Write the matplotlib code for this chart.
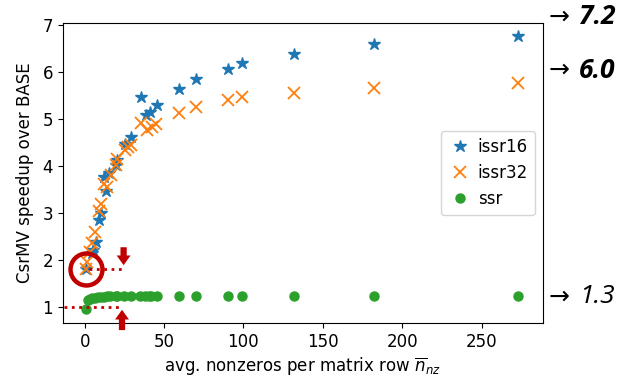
import matplotlib
matplotlib.use("Agg")
import matplotlib.pyplot as plt

# issr16 speedups
x16 = [0.8, 4.5, 5.4, 6.9, 8.8, 10.2, 13.1, 11.9, 15.2, 19.6, 20.4, 25.4, 29.0,
       35.2, 38.3, 41.0, 45.7, 59.6, 69.8, 90.2, 99.0, 131.9, 182.0, 273.3]
y16 = [1.81, 2.15, 2.21, 2.39, 2.84, 3.00, 3.47, 3.76, 3.84, 4.01, 4.13, 4.47, 4.62,
       5.46, 5.08, 5.15, 5.30, 5.63, 5.85, 6.06, 6.18, 6.38, 6.59, 6.77]

# issr32 speedups
x32 = [0.6, 1.7, 3.3, 4.8, 6.2, 8.7, 10.0, 12.1, 14.2, 16.3, 19.5, 20.4, 25.2, 27.0,
       29.2, 35.2, 39.0, 42.3, 45.0, 59.6, 69.8, 90.2, 99.0, 131.9, 182.0, 273.3]
y32 = [1.80, 1.96, 2.17, 2.37, 2.60, 3.05, 3.20, 3.62, 3.56, 3.81, 4.03, 4.14, 4.34, 4.40,
       4.45, 4.92, 4.76, 4.82, 4.90, 5.13, 5.25, 5.40, 5.46, 5.56, 5.65, 5.77]

# ssr speedups
xs = [0.6, 2.0, 3.3, 4.8, 6.5, 8.5, 10.0, 12.0, 14.0, 16.0, 19.5, 20.4, 25.0, 29.0,
      35.0, 38.0, 40.5, 42.0, 45.5, 59.6, 69.8, 90.2, 99.0, 131.9, 182.0, 273.3]
ys = [0.95, 1.15, 1.18, 1.19, 1.20, 1.21, 1.22, 1.22, 1.23, 1.23, 1.23, 1.23, 1.24, 1.24,
      1.24, 1.24, 1.24, 1.24, 1.24, 1.24, 1.24, 1.24, 1.24, 1.24, 1.24, 1.24]

# annotations on the right side
peak_labels = ["7.2", "6.0", "1.3"]
peak_weights = ["bold", "bold", "normal"]
peak_y = [7.17, 6.04, 1.22]

RED = "#C00000"

fig = plt.figure(figsize=(6.21, 3.79), dpi=100)
ax = fig.add_axes([0.1014, 0.1478, 0.7729, 0.7915])

ax.plot(x16, y16, "*", color="#1f77b4", ms=9, label="issr16")
ax.plot(x32, y32, "x", color="#ff7f0e", ms=9, mew=1.3, label="issr32")
ax.plot(xs, ys, "o", color="#2ca02c", ms=6.5, label="ssr")

ax.set_xlim(-13.7, 288.7)
ax.set_ylim(0.66, 7.04)
ax.set_xlabel(r"avg. nonzeros per matrix row $\overline{n}_{nz}$", fontsize=12)
ax.set_ylabel("CsrMV speedup over BASE", fontsize=12, labelpad=6)
ax.tick_params(labelsize=12)
ax.set_yticks([1, 2, 3, 4, 5, 6, 7])
ax.set_xticks([0, 50, 100, 150, 200, 250])

ax.legend(loc="center right", fontsize=12, handletextpad=0.3, handlelength=1.5)

# red highlights
ax.plot([0.8], [1.8], "o", ms=23, mfc="none", mec=RED, mew=3.2, clip_on=False)
ax.plot([2.5, 23.5], [1.8, 1.8], ":", color=RED, lw=2)
ax.plot([-13, 22], [1.0, 1.0], ":", color=RED, lw=2, clip_on=False)
ax.annotate("", xy=(24.5, 1.83), xytext=(24.5, 2.33),
            arrowprops=dict(arrowstyle="simple,head_width=1.0,head_length=0.7,tail_width=0.45",
                            color=RED, lw=0))
ax.annotate("", xy=(23.5, 1.0), xytext=(23.5, 0.45), annotation_clip=False,
            arrowprops=dict(arrowstyle="simple,head_width=1.0,head_length=0.7,tail_width=0.45",
                            color=RED, lw=0))

yt = ax.get_yaxis_transform()
for txt, wt, yv in zip(peak_labels, peak_weights, peak_y):
    ax.text(1.012, yv, "\u2192", transform=yt, va="center", ha="left",
            fontsize=18, family="DejaVu Sans", clip_on=False)
    ax.text(1.075, yv, txt, transform=yt, va="center", ha="left",
            fontsize=19, style="italic", weight=wt,
            family=["Open Sans", "DejaVu Sans"], clip_on=False)

fig.savefig("out.png", dpi=100)
